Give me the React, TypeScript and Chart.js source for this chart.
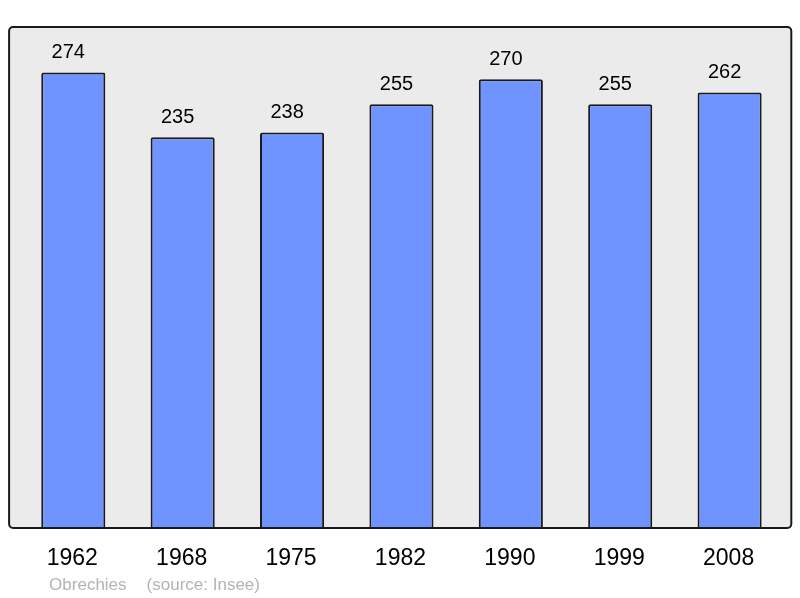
import React, { useEffect, useRef } from "react";
import { Chart, registerables } from "chart.js";

Chart.register(...registerables);

const years = ["1962", "1968", "1975", "1982", "1990", "1999", "2008"];
const population = [274, 235, 238, 255, 270, 255, 262];
const commune = "Obrechies";
const sourceText = "(source: Insee)";

const FONT = "'Liberation Sans', Arial, sans-serif";

const framePlugin = {
  id: "frame",
  beforeDatasetsDraw(chart: any) {
    const { ctx, chartArea } = chart;
    const l = chartArea.left - 9.5;
    const r = chartArea.right + 7;
    const t = chartArea.top;
    const b = chartArea.bottom;
    ctx.save();
    ctx.beginPath();
    if (ctx.roundRect) ctx.roundRect(l, t, r - l, b - t, 4);
    else ctx.rect(l, t, r - l, b - t);
    ctx.fillStyle = "#ebebeb";
    ctx.fill();
    ctx.restore();
  },
  afterDatasetsDraw(chart: any) {
    const { ctx, chartArea } = chart;
    const l = chartArea.left - 9.5;
    const r = chartArea.right + 7;
    const t = chartArea.top;
    const b = chartArea.bottom;
    ctx.save();
    ctx.beginPath();
    if (ctx.roundRect) ctx.roundRect(l, t, r - l, b - t, 4);
    else ctx.rect(l, t, r - l, b - t);
    ctx.lineWidth = 2;
    ctx.strokeStyle = "#1a1a1a";
    ctx.stroke();

    // value labels
    const meta = chart.getDatasetMeta(0);
    ctx.fillStyle = "#000";
    ctx.font = `20px ${FONT}`;
    ctx.textAlign = "center";
    ctx.textBaseline = "alphabetic";
    meta.data.forEach((bar: any, i: number) => {
      ctx.fillText(String(population[i]), bar.x - 5, bar.y - 14.5);
    });

    // year labels
    const xs = chart.scales.x;
    ctx.font = `23px ${FONT}`;
    years.forEach((y, i) => {
      ctx.fillText(y, xs.getPixelForValue(i) - 1, b + 37);
    });

    // footer
    ctx.fillStyle = "#b3b3b3";
    ctx.font = `17px ${FONT}`;
    ctx.textAlign = "left";
    ctx.fillText(commune, l + 40, b + 62);
    ctx.fillText(sourceText, l + 137.5, b + 62);
    ctx.restore();
  },
};

export default function App() {
  const ref = useRef<HTMLCanvasElement>(null);
  useEffect(() => {
    document.body.style.margin = "0";
    const chart = new Chart(ref.current!, {
      type: "bar",
      data: {
        labels: years,
        datasets: [
          {
            data: population,
            backgroundColor: "#7094ff",
            borderColor: "#1a1a1a",
            borderWidth: 2,
            borderRadius: 2,
            borderSkipped: "bottom",
            barPercentage: 0.586,
            categoryPercentage: 1,
          },
        ],
      },
      options: {
        responsive: false,
        animation: false,
        layout: { padding: { left: 18.6, right: 15.7, top: 27, bottom: 70 } },
        plugins: { legend: { display: false }, tooltip: { enabled: false } },
        scales: {
          x: { display: false },
          y: { display: false, min: 0, max: 301.4 },
        },
      },
      plugins: [framePlugin],
    });
    return () => chart.destroy();
  }, []);
  return (
    <div style={{ position: "absolute", left: 0, top: 0, width: 800, height: 598 }}>
      <canvas ref={ref} width={800} height={598} />
    </div>
  );
}
